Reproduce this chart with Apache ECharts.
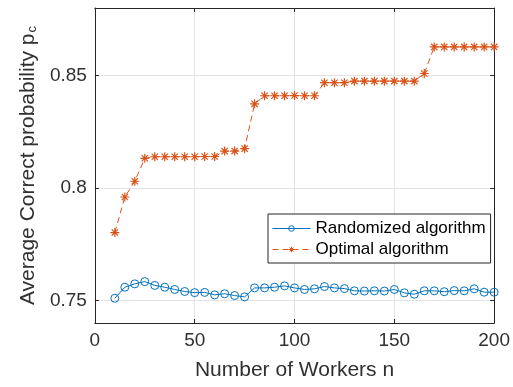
<!DOCTYPE html>
<html>
<head>
<meta charset="utf-8">
<script src="https://cdn.jsdelivr.net/npm/echarts@6/dist/echarts.min.js"></script>
<style>
  html, body { margin: 0; padding: 0; background: #fff; }
  #chart { width: 513px; height: 387px; }
</style>
</head>
<body>
<div id="chart"></div>
<script>
// Number of workers n (x values)
const workers = [10, 15, 20, 25, 30, 35, 40, 45, 50, 55, 60, 65, 70, 75, 80, 85, 90, 95, 100,
  105, 110, 115, 120, 125, 130, 135, 140, 145, 150, 155, 160, 165, 170, 175, 180, 185, 190, 195, 200];

// Average correct probability, randomized algorithm
const randomized = [0.7510, 0.7559, 0.7574, 0.7584, 0.7567, 0.7559, 0.7549, 0.7540, 0.7535, 0.7536,
  0.7525, 0.7530, 0.7522, 0.7516, 0.7556, 0.7556, 0.7559, 0.7565, 0.7556, 0.7549,
  0.7552, 0.7562, 0.7556, 0.7553, 0.7543, 0.7542, 0.7543, 0.7542, 0.7549, 0.7534,
  0.7528, 0.7543, 0.7543, 0.7539, 0.7544, 0.7543, 0.7552, 0.7537, 0.7537];

// Average correct probability, optimal algorithm
const optimal = [0.7802, 0.7960, 0.8030, 0.8132, 0.8139, 0.8139, 0.8139, 0.8139, 0.8139, 0.8140,
  0.8140, 0.8164, 0.8164, 0.8175, 0.8374, 0.8410, 0.8410, 0.8410, 0.8411, 0.8410,
  0.8410, 0.8468, 0.8468, 0.8468, 0.8475, 0.8475, 0.8475, 0.8475, 0.8475, 0.8475,
  0.8475, 0.8509, 0.8627, 0.8627, 0.8627, 0.8627, 0.8627, 0.8627, 0.8627];

const xTicks = [0, 50, 100, 150, 200];
const yTicks = [0.75, 0.8, 0.85];

const FONT = "'Liberation Sans', Arial, Helvetica, sans-serif";
const INK = '#262626';
const TEXT = '#303030';
const GRID = '#e3e3e3';
const BLUE = '#0072BD';
const ORANGE = '#D95319';

// eight-armed asterisk marker drawn as strokes
const ASTERISK = 'path://M10,0L10,20M0,10L20,10M3,3L17,17M3,17L17,3';

const pair = (xs, ys) => xs.map((x, i) => [x, ys[i]]);

const chart = echarts.init(document.getElementById('chart'), null, { renderer: 'canvas' });

const tickFmt = v => String(Math.round(v * 100) / 100);

chart.setOption({
  animation: false,
  backgroundColor: '#fff',
  textStyle: { fontFamily: FONT },
  grid: { left: 90, right: 16, top: 8, bottom: 64, containLabel: false },
  legend: {
    orient: 'vertical',
    left: 268,
    top: 214,
    padding: [6, 5, 5, 4],
    itemGap: 4,
    itemWidth: 38,
    itemHeight: 7,
    backgroundColor: '#fff',
    borderColor: INK,
    borderWidth: 1,
    borderRadius: 0,
    lineStyle: { width: 1 },
    itemStyle: { borderWidth: 1 },
    textStyle: { fontSize: 17, color: '#000', fontFamily: FONT, lineHeight: 17 },
    data: ['Randomized algorithm', 'Optimal algorithm']
  },
  xAxis: [{
    type: 'value',
    min: 0, max: 200, interval: 50,
    name: 'Number of Workers n',
    nameLocation: 'middle',
    nameGap: 37,
    nameTextStyle: { fontSize: 21, color: TEXT, fontFamily: FONT },
    axisLine: { show: true, lineStyle: { color: INK, width: 1 } },
    axisTick: { show: true, inside: true, length: 4, lineStyle: { color: INK } },
    axisLabel: { fontSize: 19, color: TEXT, margin: 8, fontFamily: FONT },
    splitLine: { show: true, lineStyle: { color: GRID, width: 1 } }
  }, {
    type: 'value', position: 'top',
    min: 0, max: 200, interval: 50,
    axisLine: { show: true, onZero: false, lineStyle: { color: INK, width: 1 } },
    axisTick: { show: true, inside: true, length: 4, lineStyle: { color: INK } },
    axisLabel: { show: false },
    splitLine: { show: false }
  }],
  yAxis: [{
    type: 'value',
    min: 0.74, max: 0.88,
    name: '{m|Average Correct probability p}{s|c}',
    nameLocation: 'middle',
    nameRotate: 90,
    nameGap: 50,
    nameTextStyle: {
      color: TEXT,
      fontFamily: FONT,
      rich: {
        m: { fontSize: 21, lineHeight: 21, color: TEXT, fontFamily: FONT, verticalAlign: 'middle' },
        s: { fontSize: 13, lineHeight: 13, color: TEXT, fontFamily: FONT, verticalAlign: 'bottom', padding: [18, 0, 0, 1] }
      }
    },
    axisLine: { show: true, onZero: false, lineStyle: { color: INK, width: 1 } },
    axisTick: { show: true, inside: true, length: 4, customValues: yTicks, lineStyle: { color: INK } },
    axisLabel: { fontSize: 19, color: TEXT, margin: 8, customValues: yTicks, formatter: tickFmt, fontFamily: FONT },
    splitLine: { show: true, lineStyle: { color: GRID, width: 1 } }
  }, {
    type: 'value', position: 'right',
    min: 0.74, max: 0.88,
    axisLine: { show: true, onZero: false, lineStyle: { color: INK, width: 1 } },
    axisTick: { show: true, inside: true, length: 4, customValues: yTicks, lineStyle: { color: INK } },
    axisLabel: { show: false, customValues: yTicks },
    splitLine: { show: false }
  }],
  series: [{
    name: 'Randomized algorithm',
    type: 'line',
    xAxisIndex: 0, yAxisIndex: 0,
    data: pair(workers, randomized),
    symbol: 'circle',
    symbolSize: 8,
    showAllSymbol: true,
    lineStyle: { color: BLUE, width: 1 },
    itemStyle: { color: 'rgba(0,0,0,0)', borderColor: BLUE, borderWidth: 1 },
    emphasis: { disabled: true },
    z: 3
  }, {
    name: 'Optimal algorithm',
    type: 'line',
    xAxisIndex: 0, yAxisIndex: 0,
    data: pair(workers, optimal),
    symbol: ASTERISK,
    symbolSize: 9,
    showAllSymbol: true,
    lineStyle: { color: ORANGE, width: 1, type: [6, 4] },
    itemStyle: { color: ORANGE, borderColor: ORANGE, borderWidth: 1.2 },
    emphasis: { disabled: true },
    z: 3
  }]
});
</script>
</body>
</html>
